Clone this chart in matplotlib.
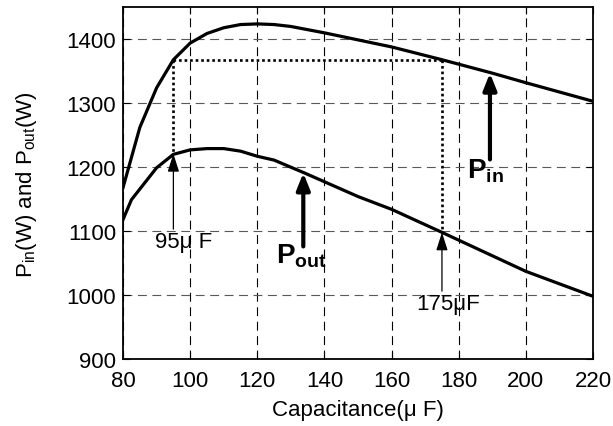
import numpy as np
import matplotlib
matplotlib.use('Agg')
import matplotlib.pyplot as plt

plt.rcParams['font.family'] = ['Liberation Sans', 'DejaVu Sans']
plt.rcParams['mathtext.fontset'] = 'custom'
plt.rcParams['mathtext.rm'] = 'Liberation Sans'
plt.rcParams['mathtext.bf'] = 'Liberation Sans:bold'

# Pin curve
cap_in = [80, 85, 90, 95, 100, 105, 110, 115, 120, 125, 130, 140, 150, 160, 175, 190, 200, 220]
p_in = [1168, 1262, 1324, 1368, 1394, 1409, 1418, 1423, 1424, 1423, 1420, 1410, 1399, 1388, 1368, 1347, 1332, 1303]
# Pout curve
cap_out = [80, 82.5, 90, 95, 100, 105, 110, 115, 120, 125, 134, 150, 160, 175, 200, 220]
p_out = [1118, 1149, 1199, 1220, 1227, 1229, 1229, 1225, 1217, 1211, 1191, 1154, 1134, 1098, 1037, 998]

c_lo, c_hi = 95, 175
p_level = 1368
p_out_lo, p_out_hi = 1221, 1098

fig = plt.figure(figsize=(6.13, 4.27), dpi=100)
ax = fig.add_axes([0.2007, 0.157, 0.7667, 0.8236])

ax.plot(cap_in, p_in, color='k', lw=2.3, zorder=3)
ax.plot(cap_out, p_out, color='k', lw=2.3, zorder=3)

# dotted guide lines
dot = dict(color='k', lw=1.9, ls=(0, (1, 1.1)), zorder=2)
ax.plot([c_lo, c_hi], [p_level, p_level], **dot)
ax.plot([c_lo, c_lo], [p_level, p_out_lo], **dot)
ax.plot([c_hi, c_hi], [p_level, p_out_hi], **dot)

# thin arrows with labels
thin = dict(arrowstyle='-|>,head_length=1.1,head_width=0.35', color='k', lw=0.9, shrinkA=0, shrinkB=0)
ax.annotate('', xy=(c_lo, p_out_lo), xytext=(c_lo, 1103), arrowprops=thin, zorder=4)
ax.annotate('', xy=(c_hi, p_out_hi), xytext=(c_hi, 1006), arrowprops=thin, zorder=4)
ax.text(98, 1083, '95\u03bc F', fontsize=16, ha='center', va='center')
ax.text(176.8, 986, '175\u03bcF', fontsize=16, ha='center', va='center')

# bold arrows
bold = dict(arrowstyle='-|>,head_length=1.0,head_width=0.4', color='k', lw=3, shrinkA=0, shrinkB=0)
ax.annotate('', xy=(133.7, 1191), xytext=(133.7, 1076), arrowprops=bold, zorder=4)
ax.annotate('', xy=(189.3, 1347), xytext=(189.3, 1212), arrowprops=bold, zorder=4)
ax.text(125.5, 1063, r'$\mathbf{P}_{\mathbf{out}}$', fontsize=20, va='center')
ax.text(182.5, 1196, r'$\mathbf{P}_{\mathbf{in}}$', fontsize=20, va='center')

ax.set_xlim(80, 220)
ax.set_ylim(900, 1450)
ax.set_xticks(np.arange(80, 221, 20))
ax.set_yticks(np.arange(900, 1401, 100))
ax.tick_params(direction='in', top=True, right=True, labelsize=16, length=5, width=0.8)
ax.tick_params(axis='x', pad=8)
ax.tick_params(axis='y', pad=5)
ax.xaxis.grid(True, color='k', lw=0.8, ls=(0, (8, 5)))
ax.yaxis.grid(True, color='0.35', lw=0.8, ls=(0, (8, 5)))
for s in ax.spines.values():
    s.set_linewidth(1.3)

ax.set_xlabel('Capacitance(\u03bc F)', fontsize=16, labelpad=6)
ax.set_ylabel(r'P$_{\rm in}$(W) and P$_{\rm out}$(W)', fontsize=16, labelpad=20)

fig.savefig('out.png', dpi=100)
